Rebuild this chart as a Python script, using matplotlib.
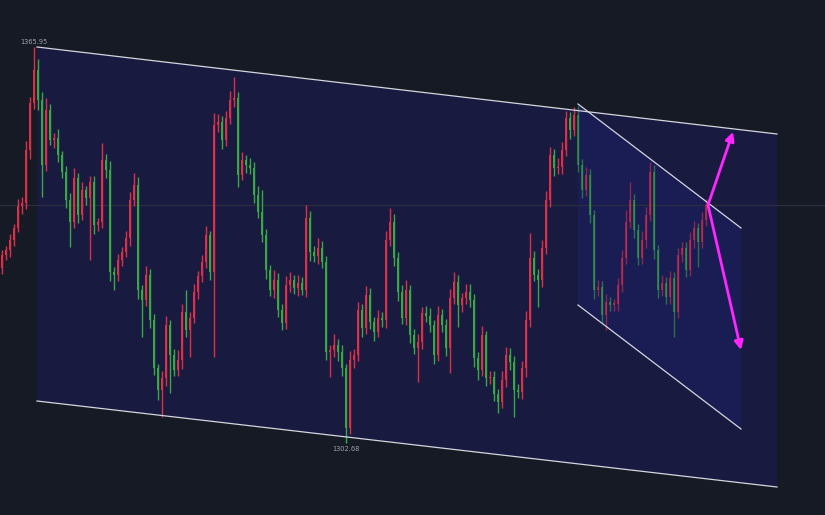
import matplotlib.pyplot as plt
import numpy as np


# Candle closes, one bar per period (open is the previous close)
first_open = 1330.6
closes = [
    1332.7, 1333.5, 1335.1, 1337.0, 1340.5, 1341.0, 1349.5, 1357.0, 1362.3, 1357.5,
    1347.1, 1355.9, 1351.1, 1351.4, 1348.7, 1346.0, 1341.5, 1338.0, 1345.0, 1339.1,
    1343.1, 1341.8, 1344.4, 1337.5, 1338.0, 1347.9, 1346.3, 1330.0, 1329.5, 1331.9,
    1333.2, 1335.4, 1341.5, 1343.9, 1327.1, 1325.5, 1329.5, 1322.3, 1314.6, 1311.1,
    1313.0, 1321.5, 1316.7, 1314.3, 1315.9, 1323.6, 1320.7, 1322.6, 1326.8, 1329.3,
    1331.6, 1335.9, 1330.0, 1353.5, 1354.0, 1351.1, 1354.6, 1357.5, 1357.8, 1345.5,
    1347.9, 1347.1, 1346.6, 1342.3, 1339.6, 1335.9, 1330.3, 1327.1, 1328.7, 1323.9,
    1321.8, 1327.9, 1328.7, 1327.4, 1328.2, 1327.1, 1338.6, 1333.2, 1332.5, 1333.8,
    1331.6, 1317.2, 1317.5, 1318.3, 1317.2, 1314.6, 1305.0, 1315.9, 1316.7, 1323.9,
    1321.0, 1326.3, 1322.0, 1320.4, 1322.6, 1322.3, 1335.1, 1338.0, 1332.2, 1326.8,
    1322.6, 1327.1, 1319.9, 1317.8, 1318.8, 1323.4, 1322.9, 1321.5, 1316.7, 1323.1,
    1321.5, 1317.8, 1325.8, 1328.4, 1324.7, 1325.8, 1326.8, 1325.5, 1316.2, 1314.3,
    1319.9, 1313.0, 1313.2, 1310.5, 1309.2, 1312.7, 1316.7, 1315.6, 1311.1, 1310.8,
    1314.6, 1322.3, 1332.2, 1329.5, 1328.7, 1333.8, 1341.5, 1348.7, 1346.6, 1346.8,
    1349.5, 1354.6, 1352.7, 1355.1, 1347.1, 1343.1, 1345.5, 1339.1, 1327.1, 1327.6,
    1323.1, 1325.2, 1324.7, 1324.8, 1327.9, 1332.2, 1338.0, 1341.5, 1336.7, 1332.2,
    1335.1, 1339.1, 1346.0, 1333.5, 1327.1, 1328.2, 1326.0, 1329.0, 1323.6, 1332.7,
    1333.8, 1330.3, 1335.1, 1337.0, 1334.8, 1338.3, 1340.7,
]

# Wick length above / below the body, in price points
wick_up = [
    0.8, 0.6, 1.0, 0.7, 1.2, 0.9, 1.5, 1.0, 3.65, 1.8,
    1.2, 1.9, 1.0, 0.8, 1.4, 0.7, 0.9, 1.1, 1.6, 0.8,
    1.3, 0.7, 1.0, 0.9, 0.6, 2.7, 1.0, 1.4, 0.8, 0.9,
    0.7, 1.1, 1.3, 1.9, 1.2, 0.8, 1.5, 0.9, 1.0, 0.6,
    1.2, 1.4, 0.8, 1.0, 1.6, 1.3, 3.5, 0.9, 1.2, 0.8,
    1.1, 1.4, 0.7, 1.9, 1.3, 0.9, 1.2, 1.5, 3.4, 1.0,
    1.2, 0.8, 1.1, 0.9, 1.4, 3.5, 1.0, 0.8, 1.6, 1.1,
    0.9, 1.5, 1.2, 0.8, 1.3, 1.0, 2.1, 1.1, 0.9, 1.6,
    1.2, 1.0, 0.8, 1.8, 0.9, 1.1, 0.7, 1.4, 1.0, 1.2,
    0.9, 1.5, 1.1, 0.8, 1.3, 1.0, 1.4, 2.2, 1.2, 0.9,
    1.1, 1.6, 0.8, 1.0, 1.2, 0.9, 1.1, 1.3, 0.8, 1.5,
    1.0, 0.9, 1.4, 1.6, 1.1, 0.8, 1.2, 1.3, 0.9, 1.0,
    1.4, 0.7, 0.9, 1.0, 0.8, 1.5, 1.3, 1.1, 0.9, 1.0,
    1.2, 1.4, 4.0, 1.1, 0.9, 1.3, 1.5, 1.2, 1.0, 1.4,
    1.3, 1.1, 1.0, 1.3, 1.5, 0.9, 1.2, 1.0, 0.8, 1.1,
    0.9, 1.2, 0.7, 0.8, 1.1, 1.3, 1.9, 2.9, 1.0, 0.9,
    1.4, 1.2, 1.6, 1.1, 0.8, 1.3, 1.0, 1.2, 0.9, 1.1,
    1.0, 0.9, 1.3, 1.1, 0.8, 1.2, 0.9,
]
wick_dn = [
    1.0, 0.8, 1.2, 0.9, 0.7, 1.3, 1.0, 1.4, 0.9, 1.6,
    5.1, 1.0, 0.8, 1.2, 1.1, 0.9, 1.3, 4.0, 1.0, 1.2,
    0.8, 1.1, 9.9, 1.4, 1.0, 0.9, 1.2, 1.5, 2.4, 0.9,
    1.0, 0.8, 1.2, 0.9, 1.4, 5.9, 1.0, 1.3, 1.1, 1.6,
    4.3, 1.2, 6.1, 1.0, 0.9, 1.4, 1.1, 4.3, 0.8, 1.2,
    1.0, 0.9, 1.3, 13.6, 1.1, 1.4, 0.9, 1.0, 1.2, 2.0,
    0.8, 1.3, 1.0, 1.2, 0.9, 1.1, 1.4, 1.0, 1.3, 1.2,
    1.1, 0.9, 1.2, 1.0, 1.3, 0.8, 1.1, 1.5, 1.0, 1.2,
    0.9, 1.3, 4.0, 1.1, 1.4, 1.2, 2.32, 1.0, 1.3, 0.9,
    1.4, 1.0, 1.2, 1.5, 0.9, 1.1, 1.3, 1.0, 1.2, 1.4,
    0.9, 1.1, 1.3, 1.0, 5.4, 1.2, 0.9, 1.1, 1.4, 1.0,
    1.2, 1.3, 4.0, 1.0, 3.5, 1.1, 0.9, 1.2, 1.4, 1.6,
    1.0, 1.3, 0.9, 1.2, 1.8, 1.0, 1.1, 1.3, 4.3, 1.0,
    1.2, 1.4, 1.1, 1.0, 4.3, 1.2, 0.9, 1.1, 1.3, 1.0,
    1.2, 0.9, 1.4, 1.0, 1.1, 1.3, 1.0, 1.2, 1.4, 1.0,
    1.3, 2.4, 1.0, 0.9, 1.1, 1.2, 1.0, 0.9, 1.3, 1.1,
    1.0, 1.2, 0.9, 1.4, 1.3, 1.0, 1.2, 1.1, 4.0, 1.0,
    1.2, 1.1, 1.0, 1.3, 4.0, 0.9, 1.0,
]

# Drawn channel (bar index, price) anchors
channel_top = [(8.75, 1365.98), (193.75, 1352.06)]
channel_bot = [(8.75, 1309.34), (193.75, 1295.58)]
inner_top = [(144.0, 1356.86), (184.75, 1337.02)]
inner_bot = [(144.0, 1324.70), (184.75, 1304.86)]
inner_start = 144
arrow_up_end = (182.75, 1352.4)
arrow_dn_end = (184.75, 1317.5)


def draw_candles(ax: plt.Axes):
    """
    Candles: red when price closes up, green when it closes down.
    """
    red = '#dc2f4a'
    green = '#38a845'
    width = 0.72

    c = np.array(closes)
    o = np.concatenate([[first_open], c[:-1]])
    top = np.maximum(o, c)
    bot = np.minimum(o, c)
    hi = top + np.array(wick_up)
    lo = bot - np.array(wick_dn)
    x = np.arange(len(c))

    for i in range(len(c)):
        col = red if c[i] >= o[i] else green
        alpha = 0.6 if i >= inner_start else 1.0
        ax.vlines(x[i], lo[i], hi[i], color=col, lw=1.0, alpha=alpha, zorder=3)
        ax.bar(x[i], max(top[i] - bot[i], 0.25), width, bottom=bot[i],
               color=col, alpha=alpha, linewidth=0, zorder=4)

    # High / low labels
    ih = int(np.argmax(hi))
    il = int(np.argmin(lo))
    ax.text(x[ih], hi[ih] + 0.3, f'{hi[ih]:.2f}', ha='center', va='bottom',
            fontsize=4.8, color='#9fa2ad', zorder=6)
    ax.text(x[il], lo[il] - 0.5, f'{lo[il]:.2f}', ha='center', va='top',
            fontsize=4.8, color='#9fa2ad', zorder=6)

    # Last price line
    ax.axhline(c[-1], color='#2a2e3f', lw=0.9, zorder=1)
    return x[-1] + 0.5, c[-1]


def draw_channel(ax: plt.Axes, top, bot, face, zorder):
    ax.fill([top[0][0], top[1][0], bot[1][0], bot[0][0]],
            [top[0][1], top[1][1], bot[1][1], bot[0][1]],
            color=face, lw=0, zorder=zorder)
    for line in (top, bot):
        ax.plot([line[0][0], line[1][0]], [line[0][1], line[1][1]],
                color='#d4d6de', lw=0.9, zorder=zorder + 3)


def main():
    # Make figure objects
    figure: plt.Figure = plt.figure(figsize=(8.25, 5.15), dpi=100)
    figure.patch.set_facecolor('#161a25')
    ax: plt.Axes = figure.add_axes([0, 0, 1, 1])
    ax.set_facecolor('#161a25')

    draw_channel(ax, channel_top, channel_bot, '#191a40', 0.5)
    draw_channel(ax, inner_top, inner_bot, '#1a1c54', 0.7)
    x0, y0 = draw_candles(ax)

    # Scenario arrows
    for end in (arrow_up_end, arrow_dn_end):
        ax.annotate('', xy=end, xytext=(x0, y0),
                    arrowprops=dict(arrowstyle='-|>', color='#ff26ff', lw=2.0,
                                    mutation_scale=13, shrinkA=0, shrinkB=0),
                    zorder=8)

    # Format
    ax.set_xlim(-0.5, 205.75)
    ax.set_ylim(1291.1, 1373.5)
    ax.axis('off')

    # Save
    figure.savefig('out.png', dpi=100, facecolor=figure.get_facecolor())


if __name__ == '__main__':
    main()
